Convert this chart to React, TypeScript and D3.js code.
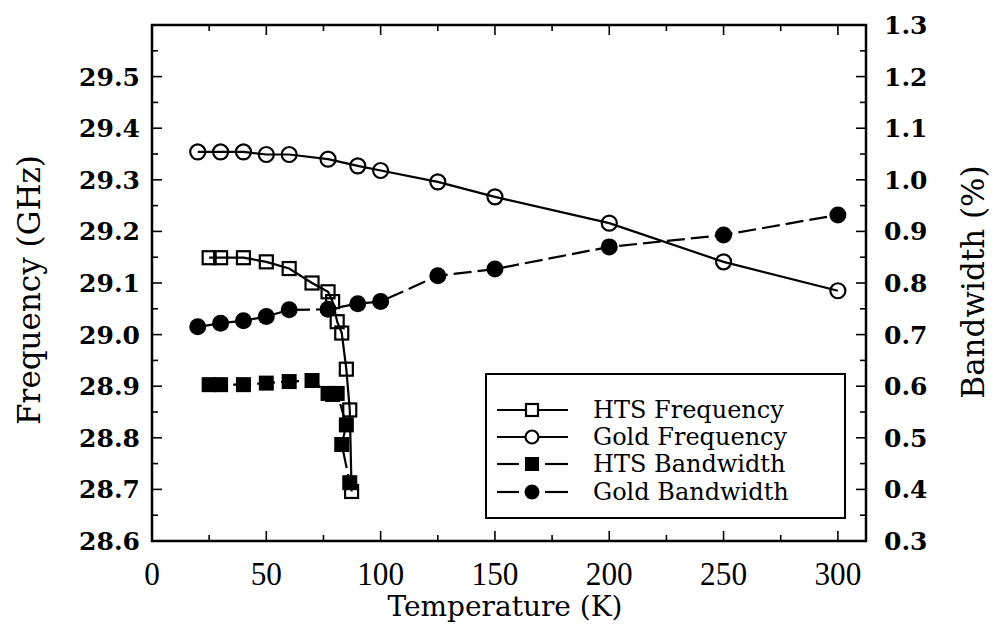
import React from "react";
import * as d3 from "d3";

const goldT = [20, 30, 40, 50, 60, 77, 90, 100, 125, 150, 200, 250, 300];
const goldFreq = [29.354, 29.354, 29.354, 29.349, 29.349, 29.34, 29.327, 29.318, 29.296, 29.267, 29.216, 29.141, 29.085];
const goldBw = [0.715, 0.722, 0.727, 0.735, 0.748, 0.749, 0.76, 0.764, 0.814, 0.827, 0.87, 0.893, 0.932];

const htsFreqT = [25, 30, 40, 50, 60, 70, 77, 79, 81, 83, 85, 86.5, 87.3];
const htsFreq = [29.149, 29.149, 29.149, 29.141, 29.128, 29.1, 29.083, 29.064, 29.025, 29.003, 28.933, 28.854, 28.696];

const htsBwT = [25, 30, 40, 50, 60, 70, 77, 79, 81, 85, 83, 86.5];
const htsBw = [0.603, 0.603, 0.603, 0.606, 0.609, 0.611, 0.586, 0.584, 0.586, 0.525, 0.487, 0.413];

const xTicks = [0, 50, 100, 150, 200, 250, 300];
const yLeftTicks = [28.6, 28.7, 28.8, 28.9, 29.0, 29.1, 29.2, 29.3, 29.4, 29.5];
const yRightTicks = [0.3, 0.4, 0.5, 0.6, 0.7, 0.8, 0.9, 1.0, 1.1, 1.2, 1.3];
const legendLabels = ["HTS Frequency", "Gold Frequency", "HTS Bandwidth", "Gold Bandwidth"];

const L = 152, R = 866, T = 25, B = 541;

export default function App() {
  const x = d3.scaleLinear().domain([0, 312.3]).range([L, R]);
  const yL = d3.scaleLinear().domain([28.6, 29.6]).range([B, T]);
  const yR = d3.scaleLinear().domain([0.3, 1.3]).range([B, T]);

  const mk = (ts: number[], vs: number[]) => ts.map((t, i) => [t, vs[i]] as [number, number]);
  const goldF = mk(goldT, goldFreq);
  const goldB = mk(goldT, goldBw);
  const htsF = mk(htsFreqT, htsFreq);
  const htsB = mk(htsBwT, htsBw);

  const lineL = d3.line<[number, number]>().x(d => x(d[0])).y(d => yL(d[1]));
  const lineR = d3.line<[number, number]>().x(d => x(d[0])).y(d => yR(d[1]));

  const serif = "'DejaVu Serif', serif";
  const xMinor = d3.range(0, 312, 25);
  const yMinorL = d3.range(28.6, 29.61, 0.05);
  const yMinorR = d3.range(0.3, 1.31, 0.05);

  const sq = 13;
  const fsq = 15;

  const legX = 486, legY = 374, legW = 359, legH = 144;
  const rowY = [410, 437, 464, 492];

  return (
    <svg width={995} height={626} style={{ position: "absolute", left: 0, top: 0, background: "#fff" }}>
      <rect x={0} y={0} width={995} height={626} fill="#fff" />
      {/* ticks */}
      <g stroke="#000" strokeWidth={1.6}>
        {xMinor.map((v, i) => {
          const major = Math.round(v) % 50 === 0;
          const len = major ? 10 : 6;
          return (
            <g key={"xt" + i}>
              <line x1={x(v)} x2={x(v)} y1={B} y2={B - len} />
              <line x1={x(v)} x2={x(v)} y1={T} y2={T + len} />
            </g>
          );
        })}
        {yMinorL.map((v, i) => (
          <line key={"yl" + i} x1={L} x2={L + (i % 2 === 0 ? 10 : 6)} y1={yL(v)} y2={yL(v)} />
        ))}
        {yMinorR.map((v, i) => (
          <line key={"yr" + i} x1={R} x2={R - (i % 2 === 0 ? 10 : 6)} y1={yR(v)} y2={yR(v)} />
        ))}
      </g>
      <rect x={L} y={T} width={R - L} height={B - T} fill="none" stroke="#000" strokeWidth={2.5} />

      {/* tick labels */}
      <g fontFamily={serif} fontWeight="bold" fontSize={25} fill="#000">
        {yLeftTicks.map((v, i) => (
          <text key={"lt" + i} x={L - 12} y={yL(v) + 9} textAnchor="end">{v.toFixed(1)}</text>
        ))}
        {yRightTicks.map((v, i) => (
          <text key={"rt" + i} x={R + 18} y={yR(v) + 9} textAnchor="start">{v.toFixed(1)}</text>
        ))}
      </g>
      <g fontFamily="'Liberation Serif', serif" fontSize={34} fill="#000">
        {xTicks.map((v, i) => (
          <text key={"xt" + i} transform={`translate(${x(v)},${B + 44}) scale(0.92,1)`} textAnchor="middle">{v}</text>
        ))}
      </g>

      {/* axis titles */}
      <text x={505} y={616} textAnchor="middle" fontFamily={serif} fontSize={28}>Temperature (K)</text>
      <text transform={`translate(40,${290}) rotate(-90)`} textAnchor="middle" fontFamily={serif} fontSize={31}>Frequency (GHz)</text>
      <text transform={`translate(984,${282}) rotate(-90)`} textAnchor="middle" fontFamily={serif} fontSize={31}>Bandwidth (%)</text>

      {/* lines */}
      <path d={lineL(goldF) || ""} fill="none" stroke="#000" strokeWidth={2.2} />
      <path d={lineL(htsF) || ""} fill="none" stroke="#000" strokeWidth={2.2} />
      <path d={lineR(goldB) || ""} fill="none" stroke="#000" strokeWidth={2.2} strokeDasharray="18,6" />
      <path d={lineR(htsB) || ""} fill="none" stroke="#000" strokeWidth={2.2} strokeDasharray="18,6" />

      {/* markers */}
      {goldF.map((d, i) => (
        <circle key={"gf" + i} cx={x(d[0])} cy={yL(d[1])} r={7.5} fill="none" stroke="#000" strokeWidth={2.2} />
      ))}
      {goldB.map((d, i) => (
        <circle key={"gb" + i} cx={x(d[0])} cy={yR(d[1])} r={8.5} fill="#000" />
      ))}
      {htsB.map((d, i) => (
        <rect key={"hb" + i} x={x(d[0]) - fsq / 2} y={yR(d[1]) - fsq / 2} width={fsq} height={fsq} fill="#000" />
      ))}
      {htsF.map((d, i) => (
        <rect key={"hf" + i} x={x(d[0]) - sq / 2} y={yL(d[1]) - sq / 2} width={sq} height={sq} fill="none" stroke="#000" strokeWidth={2.2} />
      ))}

      {/* legend */}
      <rect x={legX} y={legY} width={legW} height={legH} fill="#fff" stroke="#000" strokeWidth={2} />
      <g stroke="#000" strokeWidth={2.2}>
        <line x1={497} x2={568} y1={rowY[0]} y2={rowY[0]} />
        <rect x={532 - 6} y={rowY[0] - 6} width={12} height={12} fill="#fff" />
        <line x1={497} x2={568} y1={rowY[1]} y2={rowY[1]} />
        <circle cx={532} cy={rowY[1]} r={6.5} fill="#fff" />
        <line x1={497} x2={519} y1={rowY[2]} y2={rowY[2]} />
        <line x1={545} x2={568} y1={rowY[2]} y2={rowY[2]} />
        <rect x={532 - 7} y={rowY[2] - 7} width={14} height={14} fill="#000" stroke="none" />
        <line x1={497} x2={519} y1={rowY[3]} y2={rowY[3]} />
        <line x1={545} x2={568} y1={rowY[3]} y2={rowY[3]} />
        <circle cx={532} cy={rowY[3]} r={7.5} fill="#000" stroke="none" />
      </g>
      <g fontFamily={serif} fontSize={24} fill="#000">
        {legendLabels.map((s, i) => (
          <text key={"lg" + i} x={593} y={rowY[i] + 8}>{s}</text>
        ))}
      </g>
    </svg>
  );
}
